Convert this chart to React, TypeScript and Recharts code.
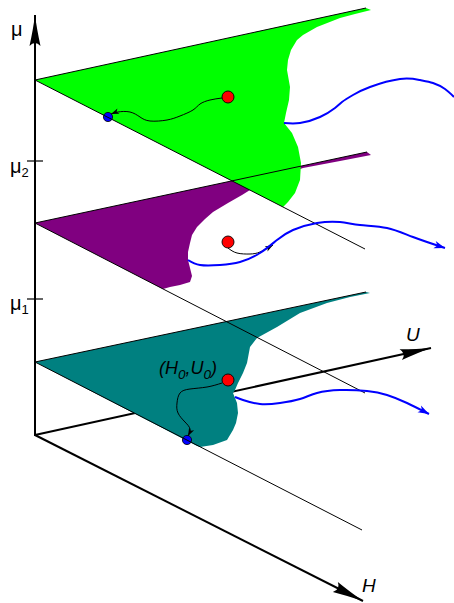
import React from 'react';
import { ScatterChart, Scatter, XAxis, YAxis } from 'recharts';

type Pt = { x: number; y: number };

// Diagram coordinates: x to the right, y downward (picture units)
const muAxis: Pt[] = [{ x: 35, y: 436 }, { x: 35, y: 15 }];
const hAxis: Pt[] = [{ x: 35, y: 435 }, { x: 363, y: 601 }];
const uAxis: Pt[] = [{ x: 35, y: 435 }, { x: 431, y: 348 }];
const mu2Tick: Pt[] = [{ x: 27, y: 161 }, { x: 43, y: 161 }];
const mu1Tick: Pt[] = [{ x: 27, y: 299 }, { x: 43, y: 299 }];

const greenPlane: Pt[] = [
  { x: 35, y: 80 }, { x: 366, y: 8 }, { x: 371, y: 10 }, { x: 355, y: 14 }, { x: 340, y: 18 },
  { x: 317, y: 27 }, { x: 303, y: 35 }, { x: 297, y: 40 }, { x: 291, y: 50 }, { x: 288, y: 60 },
  { x: 287, y: 70 }, { x: 290, y: 87 }, { x: 289, y: 100 }, { x: 286, y: 113 }, { x: 284, y: 123 },
  { x: 292, y: 133 }, { x: 298, y: 147 }, { x: 301, y: 163 }, { x: 300, y: 180 }, { x: 295, y: 193 },
  { x: 288, y: 202 }, { x: 283, y: 207 },
];
const greenBack: Pt[] = [{ x: 35, y: 80 }, { x: 366, y: 8 }];
const greenFront: Pt[] = [{ x: 35, y: 80 }, { x: 365, y: 249 }];

const purplePlane: Pt[] = [
  { x: 35, y: 223 }, { x: 367, y: 152 }, { x: 371, y: 155 }, { x: 340, y: 161 }, { x: 303, y: 168 },
  { x: 270, y: 180 }, { x: 250, y: 190 }, { x: 242, y: 195 }, { x: 228, y: 203 }, { x: 213, y: 212 },
  { x: 205, y: 219 }, { x: 197, y: 227 }, { x: 192, y: 235 }, { x: 190, y: 243 }, { x: 188, y: 252 },
  { x: 188, y: 260 }, { x: 190, y: 268 }, { x: 192, y: 276 }, { x: 190, y: 282 }, { x: 180, y: 285 },
  { x: 170, y: 287 }, { x: 163, y: 289 },
];
const purpleBack: Pt[] = [{ x: 35, y: 223 }, { x: 367, y: 152 }];
const purpleFront: Pt[] = [{ x: 35, y: 223 }, { x: 365, y: 393 }];

const tealPlane: Pt[] = [
  { x: 35, y: 362 }, { x: 366, y: 292 }, { x: 370, y: 293 }, { x: 350, y: 297 }, { x: 327, y: 303 },
  { x: 300, y: 313 }, { x: 277, y: 327 }, { x: 257, y: 338 }, { x: 250, y: 347 }, { x: 247, y: 363 },
  { x: 243, y: 373 }, { x: 238, y: 383 }, { x: 235, y: 390 }, { x: 233, y: 393 }, { x: 237, y: 403 },
  { x: 238, y: 413 }, { x: 236, y: 423 }, { x: 233, y: 430 }, { x: 227, y: 440 }, { x: 213, y: 445 },
  { x: 200, y: 447 }, { x: 197, y: 446 },
];
const tealBack: Pt[] = [{ x: 35, y: 362 }, { x: 366, y: 292 }];
const tealFront: Pt[] = [{ x: 35, y: 362 }, { x: 362, y: 530 }];

const blueGreen: Pt[] = [
  { x: 284, y: 123 }, { x: 300, y: 123 }, { x: 320, y: 117 }, { x: 335, y: 108 }, { x: 342, y: 102 },
  { x: 353, y: 95 }, { x: 370, y: 87 }, { x: 400, y: 79 }, { x: 420, y: 80 }, { x: 433, y: 83 },
  { x: 445, y: 89 }, { x: 454, y: 97 },
];
const bluePurple: Pt[] = [
  { x: 188, y: 260 }, { x: 200, y: 265 }, { x: 220, y: 265 }, { x: 240, y: 262 }, { x: 260, y: 253 },
  { x: 277, y: 240 }, { x: 293, y: 230 }, { x: 317, y: 223 }, { x: 340, y: 222 }, { x: 360, y: 225 },
  { x: 387, y: 228 }, { x: 413, y: 237 }, { x: 445, y: 248 },
];
const blueTeal: Pt[] = [
  { x: 235, y: 397 }, { x: 243, y: 400 }, { x: 260, y: 404 }, { x: 280, y: 403 }, { x: 300, y: 399 },
  { x: 317, y: 393 }, { x: 340, y: 390 }, { x: 367, y: 391 }, { x: 387, y: 395 }, { x: 407, y: 403 },
  { x: 429, y: 414 },
];

const blackGreen: Pt[] = [
  { x: 222, y: 98 }, { x: 210, y: 100 }, { x: 200, y: 104 }, { x: 193, y: 110 }, { x: 180, y: 116 },
  { x: 167, y: 120 }, { x: 150, y: 121 }, { x: 140, y: 117 }, { x: 130, y: 112 }, { x: 118, y: 112 },
  { x: 111, y: 114 },
];
const blackPurple: Pt[] = [
  { x: 228, y: 248 }, { x: 237, y: 253 }, { x: 250, y: 254 }, { x: 260, y: 252 }, { x: 273, y: 245 },
];
const blackTeal: Pt[] = [
  { x: 222, y: 383 }, { x: 207, y: 387 }, { x: 190, y: 389 }, { x: 180, y: 393 }, { x: 177, y: 403 },
  { x: 178, y: 413 }, { x: 185, y: 422 }, { x: 190, y: 429 }, { x: 188, y: 436 },
];

const redDots: Pt[] = [{ x: 228, y: 97 }, { x: 228, y: 242 }, { x: 228, y: 380 }];
const blueDots: Pt[] = [{ x: 108, y: 117 }, { x: 187, y: 440 }];

const muLabels = [
  { x: 11, y: 36, name: 'μ', sub: '' },
  { x: 10, y: 173, name: 'μ', sub: '2' },
  { x: 10, y: 310, name: 'μ', sub: '1' },
];
const axisLetters = [
  { x: 406, y: 341, name: 'U' },
  { x: 362, y: 592, name: 'H' },
];
const pointLabel = [{ x: 159, y: 374, a: 'H', b: 'U', sub: '0' }];

const FONT = 'Liberation Sans, Arial, Helvetica, sans-serif';
const empty = () => <g />;

const polygon = (data: Pt[], fill: string, key: string) => (
  <Scatter key={key} data={data} shape={empty} isAnimationActive={false}
    line={{ fill, stroke: 'none' }} lineJointType="linear" />
);
const segment = (data: Pt[], key: string, width: number, marker?: string) => (
  <Scatter key={key} data={data} shape={empty} isAnimationActive={false}
    line={{ stroke: '#000', strokeWidth: width, fill: 'none', markerEnd: marker ? `url(#${marker})` : undefined }}
    lineJointType="linear" />
);
const curve = (data: Pt[], key: string, color: string, width: number, marker?: string) => (
  <Scatter key={key} data={data} shape={empty} isAnimationActive={false}
    line={{ stroke: color, strokeWidth: width, fill: 'none', strokeLinejoin: 'round', markerEnd: marker ? `url(#${marker})` : undefined }}
    lineJointType="natural" />
);

export default function App() {
  return (
    <div style={{ position: 'absolute', left: 0, top: 0, width: 454, height: 603, background: '#fff' }}>
      <ScatterChart width={454} height={603} margin={{ top: 0, right: 0, bottom: 0, left: 0 }}>
        <defs>
          <marker id="bigArrow" markerUnits="userSpaceOnUse" viewBox="-34 -8 36 16" markerWidth={36} markerHeight={16} refX={0} refY={0} orient="auto">
            <path d="M0,0 Q-14,-1.8 -31,-5.5 Q-25,0 -31,5.5 Q-14,1.8 0,0 Z" fill="#000" />
          </marker>
          <marker id="blueArrow" markerUnits="userSpaceOnUse" viewBox="-12 -6 14 12" markerWidth={14} markerHeight={12} refX={0} refY={0} orient="auto">
            <path d="M0,0 L-11,-3.8 L-8,0 L-11,3.8 Z" fill="#0000ff" />
          </marker>
          <marker id="blackArrow" markerUnits="userSpaceOnUse" viewBox="-10 -5 12 10" markerWidth={12} markerHeight={10} refX={0} refY={0} orient="auto">
            <path d="M0,0 L-8,-2.8 L-6,0 L-8,2.8 Z" fill="#000" />
          </marker>
        </defs>
        <XAxis type="number" dataKey="x" domain={[0, 454]} hide allowDataOverflow />
        <YAxis type="number" dataKey="y" domain={[0, 603]} reversed hide allowDataOverflow />

        {segment(uAxis, 'uAxis', 2, 'bigArrow')}
        {segment(hAxis, 'hAxis', 2, 'bigArrow')}

        {polygon(tealPlane, '#008080', 'teal')}
        {polygon(purplePlane, '#800080', 'purple')}
        {polygon(greenPlane, '#00ff00', 'green')}

        {segment(muAxis, 'muAxis', 2, 'bigArrow')}
        {segment(mu2Tick, 'mu2', 1.2)}
        {segment(mu1Tick, 'mu1', 1.2)}

        <Scatter data={blueDots} isAnimationActive={false}
          shape={(p: any) => <circle cx={p.cx} cy={p.cy} r={4.6} fill="#0000ff" stroke="#000" strokeWidth={0.8} />} />

        {segment(greenBack, 'gb', 1)}
        {segment(greenFront, 'gf', 1)}
        {segment(purpleBack, 'pb', 1)}
        {segment(purpleFront, 'pf', 1)}
        {segment(tealBack, 'tb', 1)}
        {segment(tealFront, 'tf', 1)}

        {curve(blackGreen, 'kg', '#000', 1, 'blackArrow')}
        {curve(blackPurple, 'kp', '#000', 1, 'blackArrow')}
        {curve(blackTeal, 'kt', '#000', 1, 'blackArrow')}

        {curve(blueGreen, 'bg', '#0000ff', 2)}
        {curve(bluePurple, 'bp', '#0000ff', 2, 'blueArrow')}
        {curve(blueTeal, 'bt', '#0000ff', 2, 'blueArrow')}

        <Scatter data={redDots} isAnimationActive={false}
          shape={(p: any) => <circle cx={p.cx} cy={p.cy} r={6} fill="#ff0000" stroke="#000" strokeWidth={0.9} />} />

        <Scatter data={muLabels} isAnimationActive={false}
          shape={(p: any) => (
            <text x={p.cx} y={p.cy} fontFamily={FONT} fontSize={20} fill="#000">
              {p.payload.name}
              {p.payload.sub ? <tspan fontSize={13} dy={4}>{p.payload.sub}</tspan> : null}
            </text>
          )} />
        <Scatter data={axisLetters} isAnimationActive={false}
          shape={(p: any) => (
            <text x={p.cx} y={p.cy} fontFamily={FONT} fontSize={19} fontStyle="italic" fill="#000">{p.payload.name}</text>
          )} />
        <Scatter data={pointLabel} isAnimationActive={false}
          shape={(p: any) => (
            <text x={p.cx} y={p.cy} fontFamily={FONT} fontSize={18} fontStyle="italic" fill="#000">
              ({p.payload.a}
              <tspan fontSize={13.5} dy={5}>{p.payload.sub}</tspan>
              <tspan dy={-5}>,{p.payload.b}</tspan>
              <tspan fontSize={13.5} dy={5}>{p.payload.sub}</tspan>
              <tspan dy={-5}>)</tspan>
            </text>
          )} />
      </ScatterChart>
    </div>
  );
}
